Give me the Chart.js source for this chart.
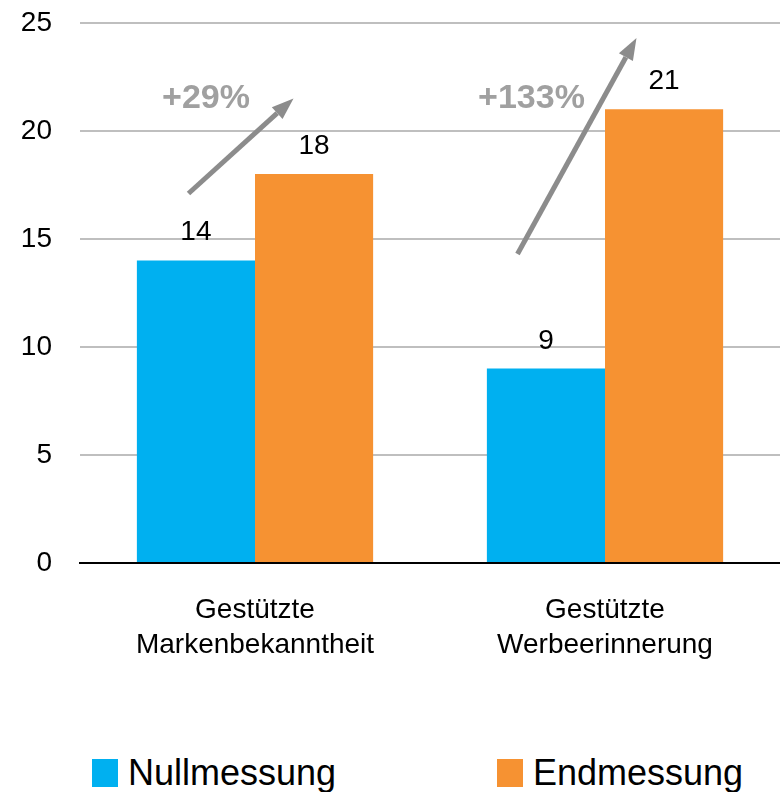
<!DOCTYPE html>
<html>
<head>
<meta charset="utf-8">
<script src="https://cdn.jsdelivr.net/npm/chart.js@4"></script>
<style>
  html, body { margin: 0; padding: 0; background: #fff; overflow: hidden; }
  #wrap { width: 780px; height: 792px; position: relative; overflow: hidden; }
  #chart-box { position: absolute; left: 0; top: -22px; width: 780px; height: 715px; }
  #legend { position: absolute; left: 0; top: 752px; display: flex; align-items: center; height: 42px; padding-left: 92px;
            font-family: "Liberation Sans", Arial, sans-serif; font-size: 36px; color: #000; }
  .item { display: flex; align-items: center; }
  .item:first-child { width: 405px; }
  .swatch { width: 26px; height: 28px; margin-right: 10px; }
</style>
</head>
<body>
<div id="wrap">
  <div id="chart-box"><canvas id="chart"></canvas></div>
  <div id="legend"></div>
</div>
<script>
document.addEventListener("DOMContentLoaded", () => {
    const categories = [["Gestützte", "Markenbekanntheit"], ["Gestützte", "Werbeerinnerung"]];
    const seriesNames = ["Nullmessung", "Endmessung"];
    const nullmessung = [14, 9];
    const endmessung = [18, 21];
    const colors = ["#00B0F0", "#F69232"];

    // Veränderungspfeile (in Datenkoordinaten: Kategorie-Index, Wert)
    const changeLabels = ["+29%", "+133%"];
    const changeLabelAt = [[-0.14, 21.5], [0.79, 21.5]];
    const arrowFrom = [[-0.19, 17.1], [0.75, 14.3]];
    const arrowTo = [[0.11, 21.5], [1.09, 24.3]];

    const font = "'Liberation Sans', Arial, sans-serif";

    const legend = document.getElementById("legend");
    seriesNames.forEach((name, i) => {
        const item = document.createElement("div");
        item.className = "item";
        item.innerHTML = `<span class="swatch" style="background:${colors[i]}"></span><span>${name}</span>`;
        legend.appendChild(item);
    });

    const overlay = {
        id: "overlay",
        afterDatasetsDraw(chart) {
            const ctx = chart.ctx;
            const x = chart.scales.x, y = chart.scales.y;

            ctx.save();
            ctx.fillStyle = "#000";
            ctx.font = "28px " + font;
            ctx.textAlign = "center";
            ctx.textBaseline = "alphabetic";
            chart.data.datasets.forEach((ds, di) => {
                chart.getDatasetMeta(di).data.forEach((bar, i) => {
                    ctx.fillText(String(ds.data[i]), bar.x, bar.y - 20);
                });
            });

            ctx.strokeStyle = "#8C8C8C";
            ctx.fillStyle = "#8C8C8C";
            ctx.lineWidth = 5;
            arrowFrom.forEach((from, i) => {
                const x1 = x.getPixelForValue(from[0]), y1 = y.getPixelForValue(from[1]);
                const x2 = x.getPixelForValue(arrowTo[i][0]), y2 = y.getPixelForValue(arrowTo[i][1]);
                const ang = Math.atan2(y2 - y1, x2 - x1);
                const head = 22, half = 8;
                const bx = x2 - head * Math.cos(ang), by = y2 - head * Math.sin(ang);
                ctx.beginPath();
                ctx.moveTo(x1, y1);
                ctx.lineTo(bx, by);
                ctx.stroke();
                ctx.beginPath();
                ctx.moveTo(x2, y2);
                ctx.lineTo(bx + half * Math.sin(ang), by - half * Math.cos(ang));
                ctx.lineTo(bx - half * Math.sin(ang), by + half * Math.cos(ang));
                ctx.closePath();
                ctx.fill();
            });

            ctx.fillStyle = "#A0A0A0";
            ctx.font = "bold 34px " + font;
            ctx.textBaseline = "middle";
            changeLabels.forEach((t, i) => {
                ctx.fillText(t, x.getPixelForValue(changeLabelAt[i][0]), y.getPixelForValue(changeLabelAt[i][1]));
            });
            ctx.restore();
        }
    };

    new Chart(document.getElementById("chart").getContext("2d"), {
        type: "bar",
        data: {
            labels: categories,
            datasets: seriesNames.map((name, i) => ({
                label: name,
                data: i === 0 ? nullmessung : endmessung,
                backgroundColor: colors[i],
                categoryPercentage: 0.675,
                barPercentage: 1.0
            }))
        },
        options: {
            responsive: true,
            maintainAspectRatio: false,
            animation: false,
            layout: { padding: 0 },
            plugins: {
                legend: { display: false },
                tooltip: { enabled: false }
            },
            scales: {
                x: {
                    grid: { display: false, drawTicks: false },
                    border: { display: true, color: "#000", width: 2 },
                    ticks: { color: "#000", padding: 30, font: { family: font, size: 28, lineHeight: 1.25 } }
                },
                y: {
                    min: 0,
                    max: 25,
                    afterFit(s) { s.width = 80; },
                    grid: {
                        drawTicks: false,
                        lineWidth: 2,
                        color: c => c.tick && c.tick.value === 0 ? "rgba(0,0,0,0)" : "#BFBFBF"
                    },
                    border: { display: false },
                    ticks: { stepSize: 5, color: "#000", padding: 28, font: { family: font, size: 28 } }
                }
            }
        },
        plugins: [overlay]
    });
});
</script>
</body>
</html>
